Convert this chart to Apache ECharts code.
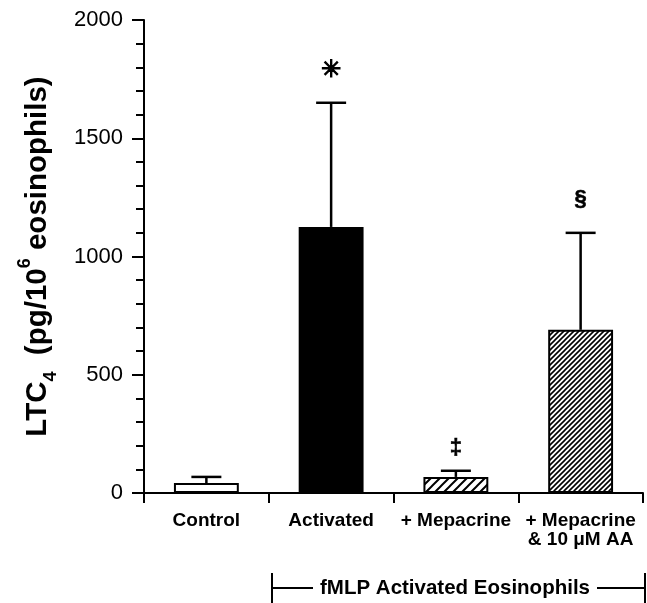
<!DOCTYPE html>
<html>
<head>
<meta charset="utf-8">
<script src="https://cdn.jsdelivr.net/npm/echarts@6/dist/echarts.min.js"></script>
<style>html,body{margin:0;padding:0;background:#fff}#c{width:647px;height:603px}</style>
</head>
<body>
<div id="c"></div>
<script>
const categories = ['Control', 'Activated', '+ Mepacrine', '+ Mepacrine\n& 10 \u03bcM AA'];
const means = [42, 1125, 68, 690];
const errors = [26, 525, 26, 410];
const marks = ['', '\u2733', '\u2021', '\u00a7'];
const yTicks = [0, 500, 1000, 1500, 2000];
const groupLabel = 'fMLP Activated Eosinophils';

function hatch(step, lw) {
  const c = document.createElement('canvas');
  c.width = step; c.height = step;
  const g = c.getContext('2d');
  g.fillStyle = '#fff'; g.fillRect(0, 0, step, step);
  g.strokeStyle = '#000'; g.lineWidth = lw; g.lineCap = 'square';
  g.beginPath();
  g.moveTo(-1, step + 1); g.lineTo(step + 1, -1);
  g.moveTo(-1, 1); g.lineTo(1, -1);
  g.moveTo(step - 1, step + 1); g.lineTo(step + 1, step - 1);
  g.stroke();
  return c;
}
const fills = ['#fff', '#000', { image: hatch(9, 2), repeat: 'repeat' }, { image: hatch(5, 1.6), repeat: 'repeat' }];
const markOffset = [0, 32, 23, 34];
const markSize = [0, 24, 22, 22];

const FONT = '"Liberation Sans", Arial, Helvetica, sans-serif';
const chart = echarts.init(document.getElementById('c'), null, { renderer: 'canvas' });
chart.setOption({
  animation: false,
  backgroundColor: '#fff',
  grid: { left: 144, right: 4, top: 20, bottom: 110, containLabel: false },
  xAxis: {
    type: 'category',
    data: categories,
    boundaryGap: true,
    axisLine: { lineStyle: { color: '#000', width: 2 } },
    axisTick: { show: true, length: 10, interval: 0, lineStyle: { color: '#000', width: 2 } },
    axisLabel: { interval: 0, margin: 18, color: '#000', fontFamily: FONT, fontWeight: 'bold', fontSize: 19, lineHeight: 19 },
    splitLine: { show: false }
  },
  yAxis: {
    type: 'value',
    min: yTicks[0], max: yTicks[yTicks.length - 1], interval: 500,
    axisLine: { show: true, lineStyle: { color: '#000', width: 2 } },
    axisTick: { show: true, length: 12, lineStyle: { color: '#000', width: 2 } },
    minorTick: { show: true, splitNumber: 5, length: 8, lineStyle: { color: '#000', width: 2 } },
    axisLabel: { margin: 21, color: '#000', fontFamily: FONT, fontSize: 22, formatter: function (v) { return String(v); } },
    splitLine: { show: false },
    name: '{b|LTC}{sub|4}{b|  (pg/10}{sup|6}{b| eosinophils)}',
    nameLocation: 'middle',
    nameRotate: 90,
    nameGap: 84,
    nameTextStyle: {
      rich: {
        b: { fontFamily: FONT, fontWeight: 'bold', fontSize: 29.5, lineHeight: 44, verticalAlign: 'middle', color: '#000' },
        sub: { fontFamily: FONT, fontWeight: 'bold', fontSize: 18, lineHeight: 14, verticalAlign: 'bottom', color: '#000' },
        sup: { fontFamily: FONT, fontWeight: 'bold', fontSize: 18, lineHeight: 14, verticalAlign: 'top', color: '#000' }
      }
    }
  },
  series: [
    {
      type: 'bar',
      barWidth: '52%',
      data: means.map((v, i) => ({ value: v, itemStyle: { color: fills[i] } })),
      itemStyle: { borderColor: '#000', borderWidth: 2 },
      z: 2
    },
    {
      type: 'custom',
      z: 3,
      data: categories.map((c, i) => [i, means[i], errors[i]]),
      renderItem: function (params, api) {
        const i = api.value(0);
        const m = api.value(1);
        const e = api.value(2);
        const base = api.coord([i, m]);
        const top = api.coord([i, m + e]);
        const half = 15;
        const children = [
          { type: 'line', shape: { x1: top[0], y1: base[1], x2: top[0], y2: top[1] }, style: { stroke: '#000', lineWidth: 2.5 } },
          { type: 'line', shape: { x1: top[0] - half, y1: top[1], x2: top[0] + half, y2: top[1] }, style: { stroke: '#000', lineWidth: 2.5 } }
        ];
        if (marks[i]) {
          children.push({
            type: 'text',
            style: {
              x: top[0], y: top[1] - markOffset[i], text: marks[i],
              align: 'center', verticalAlign: 'middle',
              fontFamily: i === 1 ? '"DejaVu Sans", sans-serif' : FONT,
              fontSize: markSize[i], fontWeight: 'bold', fill: '#000',
              stroke: '#000', lineWidth: i === 1 ? 1.2 : 0.6
            }
          });
        }
        return { type: 'group', children: children };
      }
    }
  ],
  graphic: [
    { type: 'line', shape: { x1: 272, y1: 573, x2: 272, y2: 603 }, style: { stroke: '#000', lineWidth: 2 } },
    { type: 'line', shape: { x1: 272, y1: 588, x2: 313, y2: 588 }, style: { stroke: '#000', lineWidth: 2 } },
    { type: 'line', shape: { x1: 597, y1: 588, x2: 645, y2: 588 }, style: { stroke: '#000', lineWidth: 2 } },
    { type: 'line', shape: { x1: 645, y1: 573, x2: 645, y2: 603 }, style: { stroke: '#000', lineWidth: 2 } },
    { type: 'text', x: 455, y: 588, style: { text: groupLabel, align: 'center', verticalAlign: 'middle', fontFamily: FONT, fontWeight: 'bold', fontSize: 20.5, fill: '#000' } }
  ]
});
</script>
</body>
</html>
